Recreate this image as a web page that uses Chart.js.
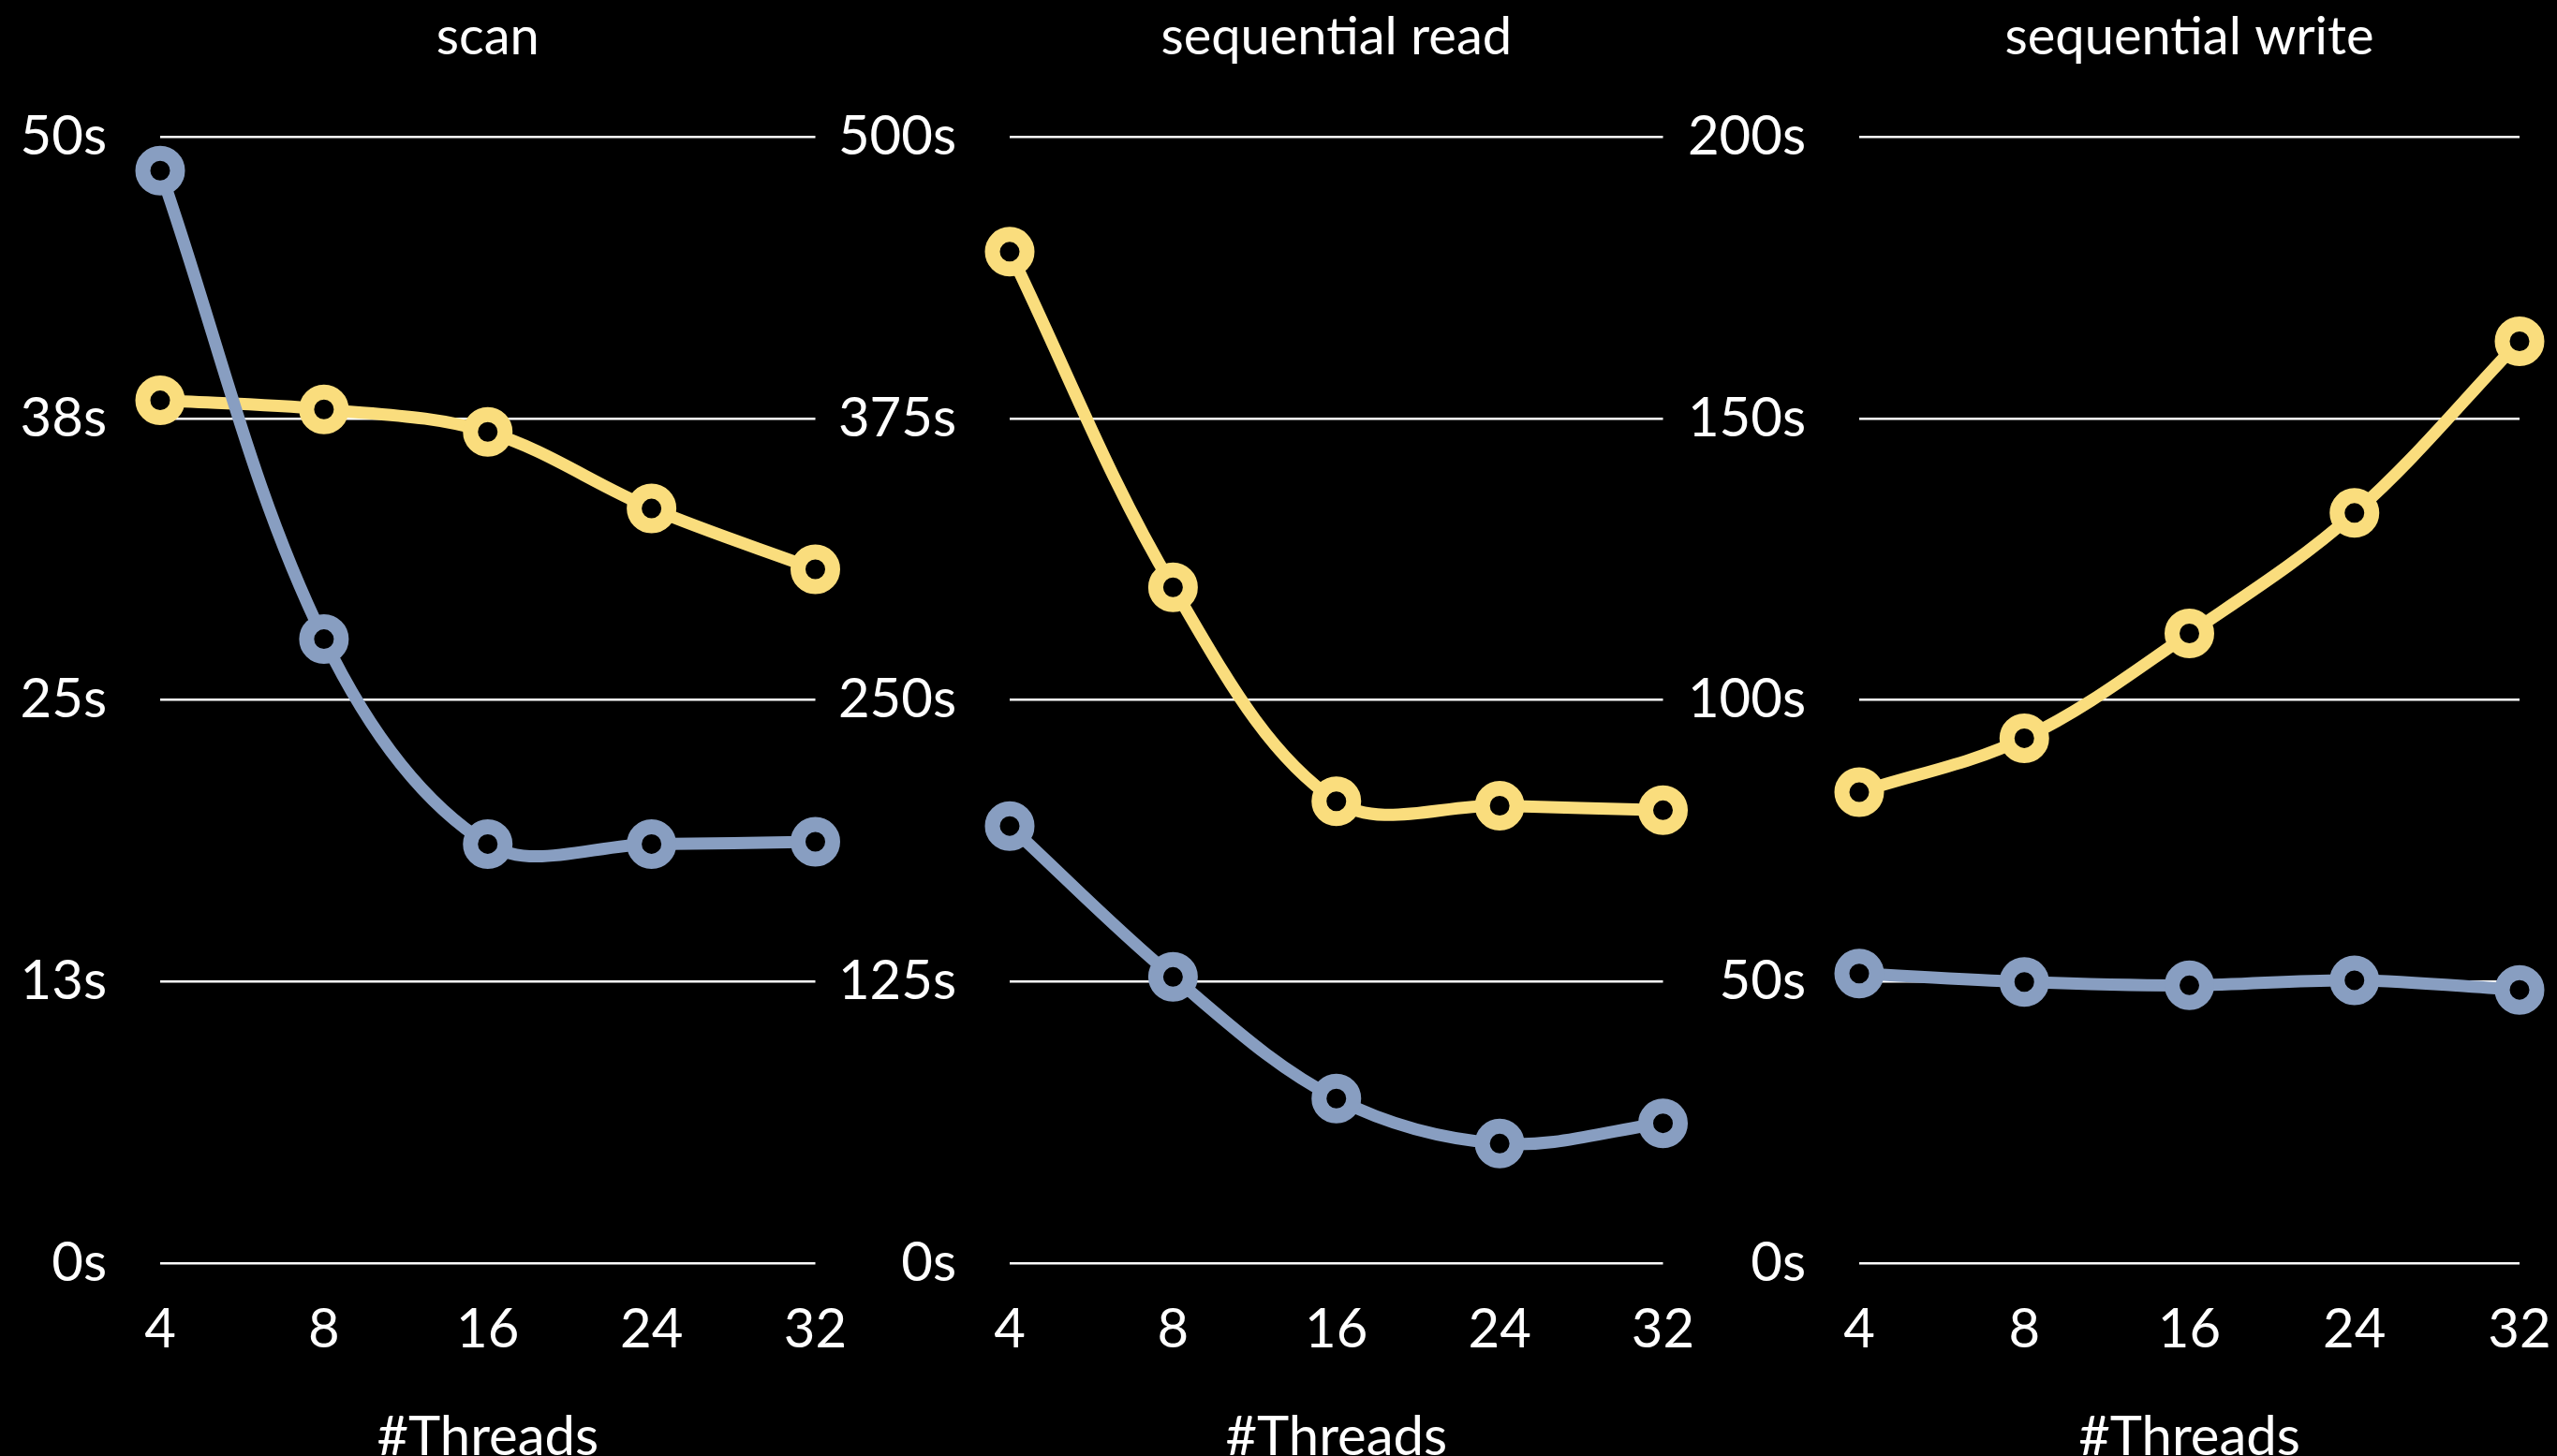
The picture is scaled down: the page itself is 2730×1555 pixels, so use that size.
<!DOCTYPE html>
<html>
<head>
<meta charset="utf-8">
<script src="https://cdn.jsdelivr.net/npm/chart.js@4.4.1/dist/chart.umd.min.js"></script>
<style>
  html, body { margin: 0; padding: 0; background: #000; overflow: hidden; }
  body { width: 2730px; height: 1555px; position: relative; }
  .panel { position: absolute; top: 0; height: 1570px; }
</style>
</head>
<body>
<div class="panel" style="left:0px;width:905px"><canvas id="scanChart"></canvas></div>
<div class="panel" style="left:880px;width:930px"><canvas id="readChart"></canvas></div>
<div class="panel" style="left:1785px;width:945px"><canvas id="writeChart"></canvas></div>
<script>
const threads = ["4", "8", "16", "24", "32"];

const scanBlue = [48.5, 27.7, 18.6, 18.6, 18.7];
const scanYellow = [38.3, 37.9, 36.9, 33.5, 30.8];

const readBlue = [194, 127, 73, 53, 62];
const readYellow = [449, 300, 205, 203, 201];

const writeBlue = [51.4, 49.9, 49.3, 50.2, 48.5];
const writeYellow = [83.6, 93.2, 111.8, 133.2, 163.7];

const titles = ["scan", "sequential read", "sequential write"];
const yMax = [50, 500, 200];

const BLUE = "rgb(136, 158, 193)";
const YELLOW = "rgb(250, 221, 125)";

Chart.defaults.font.family = "Lato, 'Open Sans', sans-serif";
Chart.defaults.color = "#fff";

function series(label, values, color) {
  return {
    label: label,
    data: values,
    borderColor: color,
    borderWidth: 13,
    tension: 0.35,
    pointRadius: 18.5,
    pointHoverRadius: 18.5,
    pointBorderWidth: 16,
    pointBorderColor: color,
    pointBackgroundColor: "#000",
    clip: false
  };
}

function makePanel(id, title, blue, yellow, max, axisWidth, padRight) {
  const ctx = document.getElementById(id);
  new Chart(ctx.getContext("2d"), {
    type: "line",
    data: {
      labels: threads,
      // blue first so it is painted on top
      datasets: [series("blue", blue, BLUE), series("yellow", yellow, YELLOW)]
    },
    options: {
      responsive: true,
      maintainAspectRatio: false,
      animation: false,
      layout: { padding: { left: 0, right: padRight, top: 0, bottom: 0 } },
      plugins: {
        legend: { display: false },
        tooltip: { enabled: false },
        title: {
          display: true,
          fullSize: false,   // centre over the plot, not the whole canvas
          text: title,
          color: "#fff",
          font: { size: 56, weight: "normal" },
          padding: { top: 6, bottom: 73 }
        }
      },
      scales: {
        x: {
          afterFit: scale => { scale.paddingLeft = 0; scale.paddingRight = 0; },
          grid: { display: false },
          border: { display: false },
          ticks: {
            color: "#fff",
            font: { size: 58 },
            padding: 29,
            maxRotation: 0,
            autoSkip: false
          },
          title: {
            display: true,
            text: "#Threads",
            color: "#fff",
            font: { size: 58 },
            padding: { top: 16, bottom: 0 }
          }
        },
        y: {
          min: 0,
          max: max,
          afterFit: scale => {
            scale.width = axisWidth;
            scale.paddingTop = 0;
            scale.paddingBottom = 0;
          },
          grid: { color: "#fff", lineWidth: 2.5, drawTicks: false },
          border: { display: false },
          ticks: {
            color: "#fff",
            font: { size: 58 },
            padding: 57,
            stepSize: max / 4,
            callback: v => Math.round(v) + "s"
          }
        }
      }
    }
  });
}

makePanel("scanChart", titles[0], scanBlue, scanYellow, yMax[0], 171, 29);
makePanel("readChart", titles[1], readBlue, readYellow, yMax[1], 198, 29);
makePanel("writeChart", titles[2], writeBlue, writeYellow, yMax[2], 200, 40);
</script>
</body>
</html>
